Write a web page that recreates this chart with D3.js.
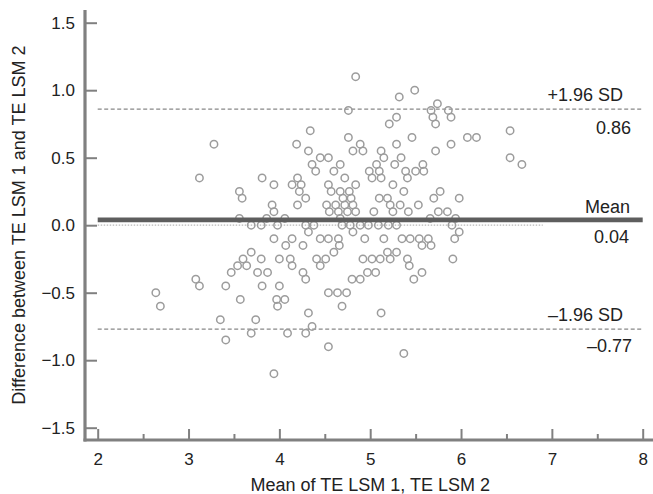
<!DOCTYPE html>
<html lang="en">
<head>
<meta charset="UTF-8">
<title>Bland-Altman TE LSM</title>
<script src="https://d3js.org/d3.v7.min.js"></script>
<style>
    body { margin: 0; background: #fff; }
    text { font-family: "Liberation Sans", Arial, Helvetica, sans-serif; fill: #222; }
</style>
</head>
<body>
<script>
    let width = 653;
    let height = 494;

    // difference level -> means of the two measurements at that level
    const points = [
        [1.10, [4.84]],
        [1.00, [5.49]],
        [0.95, [5.32]],
        [0.90, [5.74]],
        [0.85, [4.76, 5.67, 5.86]],
        [0.80, [5.29, 5.69, 5.89]],
        [0.75, [5.21, 5.72]],
        [0.70, [4.34, 6.54]],
        [0.65, [4.76, 5.46, 6.07, 6.17]],
        [0.60, [3.28, 4.19, 4.89, 5.29, 5.89]],
        [0.55, [4.32, 4.81, 4.92, 5.12, 5.72]],
        [0.50, [4.45, 4.54, 5.15, 5.34, 6.54]],
        [0.45, [4.36, 4.67, 5.07, 5.27, 5.58, 6.67]],
        [0.40, [4.40, 4.60, 4.99, 5.10, 5.39, 5.50, 5.59]],
        [0.35, [3.12, 3.81, 4.20, 4.72, 5.02, 5.12, 5.41]],
        [0.30, [3.94, 4.14, 4.24, 4.54, 4.84, 5.25]],
        [0.25, [3.56, 4.22, 4.57, 4.67, 4.77, 5.37, 5.77]],
        [0.20, [3.59, 4.29, 4.70, 4.79, 5.10, 5.19, 5.70, 5.98]],
        [0.15, [3.92, 4.20, 4.52, 4.62, 4.72, 4.81, 5.22, 5.33, 5.53]],
        [0.10, [3.94, 4.55, 4.65, 4.75, 4.84, 5.04, 5.25, 5.42, 5.75, 5.85]],
        [0.05, [3.56, 3.86, 4.06, 4.67, 5.66, 5.94]],
        [0.00, [3.69, 3.80, 3.98, 4.29, 4.38, 4.69, 4.78, 4.89, 4.98, 5.09, 5.20, 5.29, 5.90]],
        [-0.05, [4.32, 4.81, 5.98]],
        [-0.10, [3.94, 4.14, 4.45, 4.54, 4.65, 4.94, 5.15, 5.35, 5.44, 5.54, 5.64, 5.93]],
        [-0.15, [4.07, 4.26, 4.66, 5.57, 5.67]],
        [-0.20, [3.69, 4.60, 5.19, 5.29]],
        [-0.25, [3.60, 3.80, 4.00, 4.12, 4.41, 4.51, 4.92, 5.02, 5.11, 5.22, 5.41, 5.91]],
        [-0.30, [3.54, 3.64, 4.14, 4.45, 5.43]],
        [-0.35, [3.47, 3.76, 3.87, 4.26, 4.97, 5.06, 5.57]],
        [-0.40, [3.08, 4.29, 4.80, 4.89, 5.48]],
        [-0.45, [3.12, 3.41, 3.81, 4.00]],
        [-0.50, [2.64, 4.54, 4.64, 4.74]],
        [-0.55, [3.57, 3.97, 4.06]],
        [-0.60, [2.69, 3.98, 4.69]],
        [-0.65, [4.32, 5.12]],
        [-0.70, [3.35, 3.74]],
        [-0.75, [4.36]],
        [-0.80, [3.69, 4.09, 4.29]],
        [-0.85, [3.41]],
        [-0.90, [4.54]],
        [-0.95, [5.37]],
        [-1.10, [3.94]]
    ];

    const meanDiff = 0.04;
    const upperLimit = 0.86;
    const lowerLimit = -0.77;

    const xTicks = [2, 3, 4, 5, 6, 7, 8];
    const xMinorTicks = [2.5, 3.5, 4.5, 5.5, 6.5, 7.5];
    const yTicks = [-1.5, -1.0, -0.5, 0.0, 0.5, 1.0, 1.5];

    let svg = d3.select("body")
        .append("svg")
        .attr("width", width)
        .attr("height", height);

    let x = d3.scaleLinear().domain([2, 8]).range([97.7, 642.7]);
    let y = d3.scaleLinear().domain([-1.5, 1.5]).range([427.7, 22.7]);

    let axisX = 85, axisY = 440;
    let axisColor = "#808080";

    // zero reference (dotted)
    svg.append("line")
        .attr("x1", x(2)).attr("x2", x(6.9))
        .attr("y1", y(0)).attr("y2", y(0))
        .style("stroke", "#b8b8b8")
        .style("stroke-width", 1.2)
        .style("stroke-dasharray", "1.5,1.5");

    // limits of agreement
    [upperLimit, lowerLimit].forEach(v => {
        svg.append("line")
            .attr("x1", x(2)).attr("x2", x(8))
            .attr("y1", y(v)).attr("y2", y(v))
            .style("stroke", "#888")
            .style("stroke-width", 1.3)
            .style("stroke-dasharray", "4,2.5");
    });

    // points
    let flat = [];
    points.forEach(([d, ms]) => ms.forEach(m => flat.push({ m: m, d: d })));

    svg.selectAll("circle.pt")
        .data(flat)
        .enter()
        .append("circle")
        .attr("class", "pt")
        .attr("cx", p => x(p.m))
        .attr("cy", p => y(p.d))
        .attr("r", 3.7)
        .style("fill", "none")
        .style("stroke", "#9c9c9c")
        .style("stroke-width", 1.5);

    // mean line
    svg.append("line")
        .attr("x1", x(2)).attr("x2", x(8))
        .attr("y1", y(meanDiff)).attr("y2", y(meanDiff))
        .style("stroke", "#5e5e5e")
        .style("stroke-width", 4.8);

    // line labels
    let labels = [
        { t: "+1.96 SD", v: upperLimit, dy: -8, r: 623 },
        { t: upperLimit.toFixed(2), v: upperLimit, dy: 25, r: 631 },
        { t: "Mean", v: meanDiff, dy: -7, r: 630 },
        { t: meanDiff.toFixed(2), v: meanDiff, dy: 23, r: 629 },
        { t: "\u20131.96 SD", v: lowerLimit, dy: -8, r: 623 },
        { t: "\u2013" + Math.abs(lowerLimit).toFixed(2), v: lowerLimit, dy: 23, r: 632 }
    ];
    svg.selectAll("text.lbl")
        .data(labels)
        .enter()
        .append("text")
        .attr("class", "lbl")
        .attr("x", l => l.r)
        .attr("y", l => y(l.v) + l.dy)
        .attr("text-anchor", "end")
        .style("font-size", "18px")
        .text(l => l.t);

    // axes
    let fmt = v => (v < 0 ? "\u2212" : "") + Math.abs(v).toFixed(1);

    let gy = svg.append("g")
        .attr("transform", `translate(${axisX},0)`)
        .call(d3.axisLeft(y).tickValues(yTicks).tickSize(-12).tickPadding(10).tickFormat(fmt));
    gy.select(".domain").remove();

    let gx = svg.append("g")
        .attr("transform", `translate(0,${axisY})`)
        .call(d3.axisBottom(x).tickValues(xTicks).tickSize(-11).tickPadding(13).tickFormat(d3.format("d")));
    gx.select(".domain").remove();

    let gxm = svg.append("g")
        .attr("transform", `translate(0,${axisY})`)
        .call(d3.axisBottom(x).tickValues(xMinorTicks).tickSize(-6).tickFormat(""));
    gxm.select(".domain").remove();

    svg.selectAll(".tick line")
        .style("stroke", axisColor)
        .style("stroke-width", 2);
    svg.selectAll(".tick text")
        .style("font-size", "17px")
        .style("font-family", "'Liberation Sans', Arial, sans-serif")
        .style("fill", "#222");

    svg.append("line")
        .attr("x1", axisX).attr("x2", axisX)
        .attr("y1", 10).attr("y2", axisY + 1.5)
        .style("stroke", axisColor)
        .style("stroke-width", 3.2);
    svg.append("line")
        .attr("x1", axisX - 1.5).attr("x2", width)
        .attr("y1", axisY).attr("y2", axisY)
        .style("stroke", axisColor)
        .style("stroke-width", 3.2);

    // titles
    svg.append("text")
        .attr("x", (x(2) + x(8)) / 2)
        .attr("y", 491)
        .attr("text-anchor", "middle")
        .style("font-size", "18px")
        .text("Mean of TE LSM 1, TE LSM 2");

    svg.append("text")
        .attr("transform", `translate(25,${y(0)}) rotate(-90)`)
        .attr("text-anchor", "middle")
        .style("font-size", "18px")
        .text("Difference between TE LSM 1 and TE LSM 2");
</script>
</body>
</html>
